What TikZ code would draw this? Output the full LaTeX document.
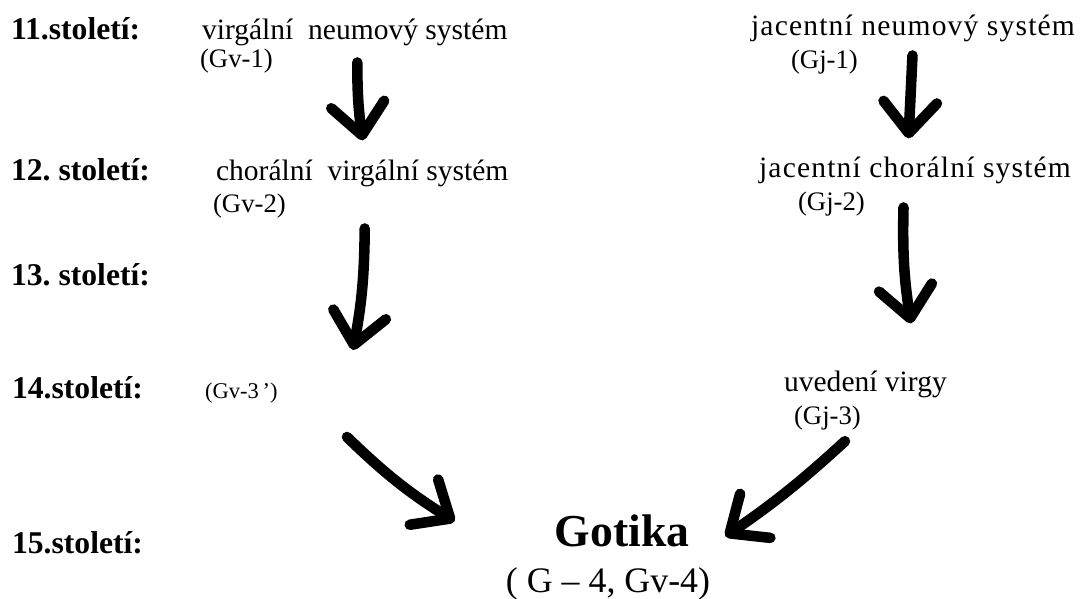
\documentclass[tikz,border=0pt]{standalone}
\usepackage{fontspec}
\setmainfont{Liberation Serif}
\newfontfamily\spacedserif[LetterSpace=4]{Liberation Serif}
\usetikzlibrary{arrows.meta}
\frenchspacing
\tikzset{
    century/.style = {anchor=base west, inner sep=2pt, font=\fontsize{22.5}{26}\selectfont\bfseries},
    system/.style = {anchor=base west, inner sep=2pt, font=\fontsize{21}{25}\selectfont},
    wide-system/.style = {anchor=base west, inner sep=2pt, font=\fontsize{21}{25}\spacedserif},
    code/.style = {anchor=base west, inner sep=2pt, font=\fontsize{19}{22}\selectfont},
    hand/.style = {line width=7.5pt, line cap=round, -{Straight Barb[length=22pt, width=38pt, round]}},
}

\begin{document}
\begin{tikzpicture}[x=0.025cm, y=-0.025cm]
\useasboundingbox (0,0) rectangle (1080,599);
% centuries
\node[century] (c11) at (8,39) {11.století:};
\node[century] (c12) at (8,180) {12. století:};
\node[century] (c13) at (8,285) {13. století:};
\node[century] (c14) at (9,398) {14.století:};
\node[century] (c15) at (9,553) {15.století:};
% virga branch
\node[system] (vn) at (199,39) {virgální\ \ neumový systém};
\node[code] (gv1) at (197,67) {(Gv-1)};
\node[system] (cv) at (213,180) {chorální\ \ virgální systém};
\node[code] (gv2) at (210,212) {(Gv-2)};
\node[code, font=\fontsize{16}{19}\selectfont] (gv3) at (202,398) {(Gv-3\,’)};
\coordinate (v3top) at (353,350);
\coordinate (v3bot) at (347,437);
% jacent branch
\node[wide-system] (jn) at (748,35) {jacentní neumový systém};
\node[code] (gj1) at (788,68) {(Gj-1)};
\node[wide-system] (jc) at (756,177) {jacentní chorální systém};
\node[code] (gj2) at (795,210) {(Gj-2)};
\node[system] (uv) at (781,391) {uvedení virgy};
\node[code] (gj3) at (791,424) {(Gj-3)};
% result
\node[anchor=base, inner sep=2pt, font=\fontsize{32.5}{38}\selectfont\bfseries] (got) at (622,546) {Gotika};
\node[anchor=base, inner sep=2pt, font=\fontsize{25.5}{30}\selectfont] (g4) at (608,592) {( G -- 4, Gv-4)};

\draw[hand] ([shift={(2.5,14)}]vn.south) to[bend right=4] ([shift={(0.5,-16)}]cv.north);
\draw[hand] ([shift={(2.5,39)}]cv.south) to[bend left=5] (v3top);
\draw[hand] (v3bot) to[bend right=6] ([shift={(-97,-9)}]got.west);
\draw[hand] ([shift={(-0.5,11)}]jn.south) to ([shift={(-6.5,-15)}]jc.north);
\draw[hand] ([shift={(-11.5,21)}]jc.south) to[bend right=5] ([shift={(45.5,-44)}]uv.north);
\draw[hand] ([shift={(17.5,8.4)}]gj3.south) to[bend left=4] ([shift={(33,6)}]got.east);
\end{tikzpicture}
\end{document}
